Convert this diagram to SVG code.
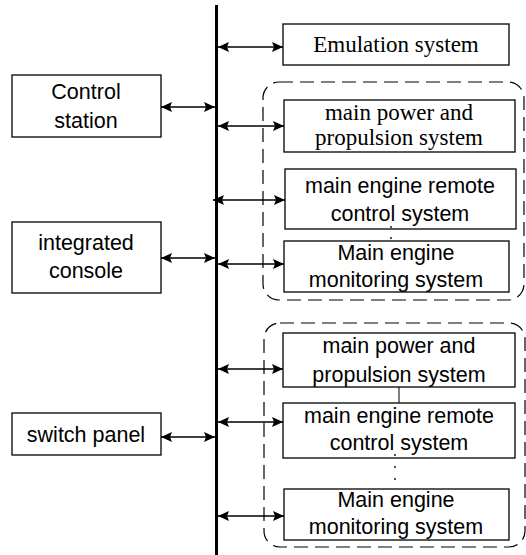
<svg xmlns="http://www.w3.org/2000/svg" width="526" height="555" viewBox="0 0 526 555">
  <style>
    .box { fill: #fff; stroke: #000; stroke-width: 1.3; }
    .grp { fill: none; stroke: #000; stroke-width: 1.2; stroke-dasharray: 14 7; }
    .serif { font-family: "Liberation Serif", "Times New Roman", serif; font-size: 23px; fill: #000; text-anchor: middle; }
    .sans { font-family: "Liberation Sans", Arial, sans-serif; font-size: 21.5px; fill: #000; text-anchor: middle; }
    .link { stroke: #000; stroke-width: 1.7; fill: none; marker-start: url(#ah); marker-end: url(#ah); }
    .bus { stroke: #000; stroke-width: 3; }
    .dot { fill: #000; }
  </style>
  <defs>
    <marker id="ah" viewBox="0 0 11 10" refX="11" refY="5" markerWidth="11" markerHeight="10" markerUnits="userSpaceOnUse" orient="auto-start-reverse">
      <path d="M0,0 L11,5 L0,10 L2,5 Z" fill="#000"/>
    </marker>
  </defs>
  <rect width="526" height="555" fill="#fff"/>

  <!-- subsystem groupings -->
  <rect class="grp" x="263" y="82" width="261" height="218" rx="16" ry="16"/>
  <rect class="grp" x="264" y="323" width="261" height="224" rx="16" ry="16"/>

  <!-- left-side nodes -->
  <g id="control-station">
    <rect class="box" x="12" y="75" width="149" height="62"/>
    <text class="sans" x="86" y="99">Control</text>
    <text class="sans" x="86" y="128">station</text>
  </g>
  <g id="integrated-console">
    <rect class="box" x="12" y="222" width="149" height="71"/>
    <text class="sans" x="86" y="250">integrated</text>
    <text class="sans" x="86" y="278">console</text>
  </g>
  <g id="switch-panel">
    <rect class="box" x="12" y="413" width="149" height="42"/>
    <text class="sans" x="86" y="442">switch panel</text>
  </g>

  <!-- right-side nodes -->
  <g id="emulation-system">
    <rect class="box" x="283" y="24" width="226" height="41"/>
    <text class="serif" x="396" y="52">Emulation system</text>
  </g>
  <g id="power-propulsion-1">
    <rect class="box" x="284" y="100" width="231" height="52"/>
    <text class="serif" x="399" y="120">main power and</text>
    <text class="serif" x="399" y="145">propulsion system</text>
  </g>
  <g id="remote-control-1">
    <rect class="box" x="285" y="169" width="231" height="60"/>
    <text class="sans" x="400" y="193">main engine remote</text>
    <text class="sans" x="400" y="221">control system</text>
  </g>
  <g id="monitoring-1">
    <rect class="box" x="284" y="241" width="225" height="51"/>
    <text class="sans" x="396" y="260">Main engine</text>
    <text class="sans" x="396" y="287">monitoring system</text>
  </g>
  <g id="power-propulsion-2">
    <rect class="box" x="283" y="333" width="232" height="54"/>
    <text class="sans" x="399" y="353">main power and</text>
    <text class="sans" x="399" y="382">propulsion system</text>
  </g>
  <g id="remote-control-2">
    <rect class="box" x="283" y="403" width="232" height="55"/>
    <text class="sans" x="399" y="423">main engine remote</text>
    <text class="sans" x="399" y="450">control system</text>
  </g>
  <g id="monitoring-2">
    <rect class="box" x="284" y="489" width="225" height="51"/>
    <text class="sans" x="396" y="507">Main engine</text>
    <text class="sans" x="396" y="534">monitoring system</text>
  </g>

  <!-- connectors -->
  <g id="connectors">
    <line class="bus" x1="216.5" y1="5" x2="216.5" y2="555"/>
    <line class="link" x1="161" y1="107" x2="215" y2="107"/>
    <line class="link" x1="161" y1="258" x2="215" y2="258"/>
    <line class="link" x1="161" y1="437" x2="215" y2="437"/>
    <line class="link" x1="218" y1="47" x2="283" y2="47"/>
    <line class="link" x1="218" y1="126" x2="284" y2="126"/>
    <line class="link" x1="213" y1="200" x2="285" y2="200"/>
    <line class="link" x1="218" y1="264" x2="284" y2="264"/>
    <line class="link" x1="218" y1="369" x2="283" y2="369"/>
    <line class="link" x1="218" y1="422" x2="283" y2="422"/>
    <line class="link" x1="218" y1="516" x2="284" y2="516"/>
    <line x1="399" y1="387" x2="399" y2="403" stroke="#000" stroke-width="1"/>
    <circle class="dot" cx="391" cy="227" r="0.9"/>
    <circle class="dot" cx="391" cy="238" r="0.9"/>
    <circle class="dot" cx="395" cy="455" r="0.9"/>
    <circle class="dot" cx="395" cy="467" r="0.9"/>
    <circle class="dot" cx="395" cy="479" r="0.9"/>
  </g>
</svg>
